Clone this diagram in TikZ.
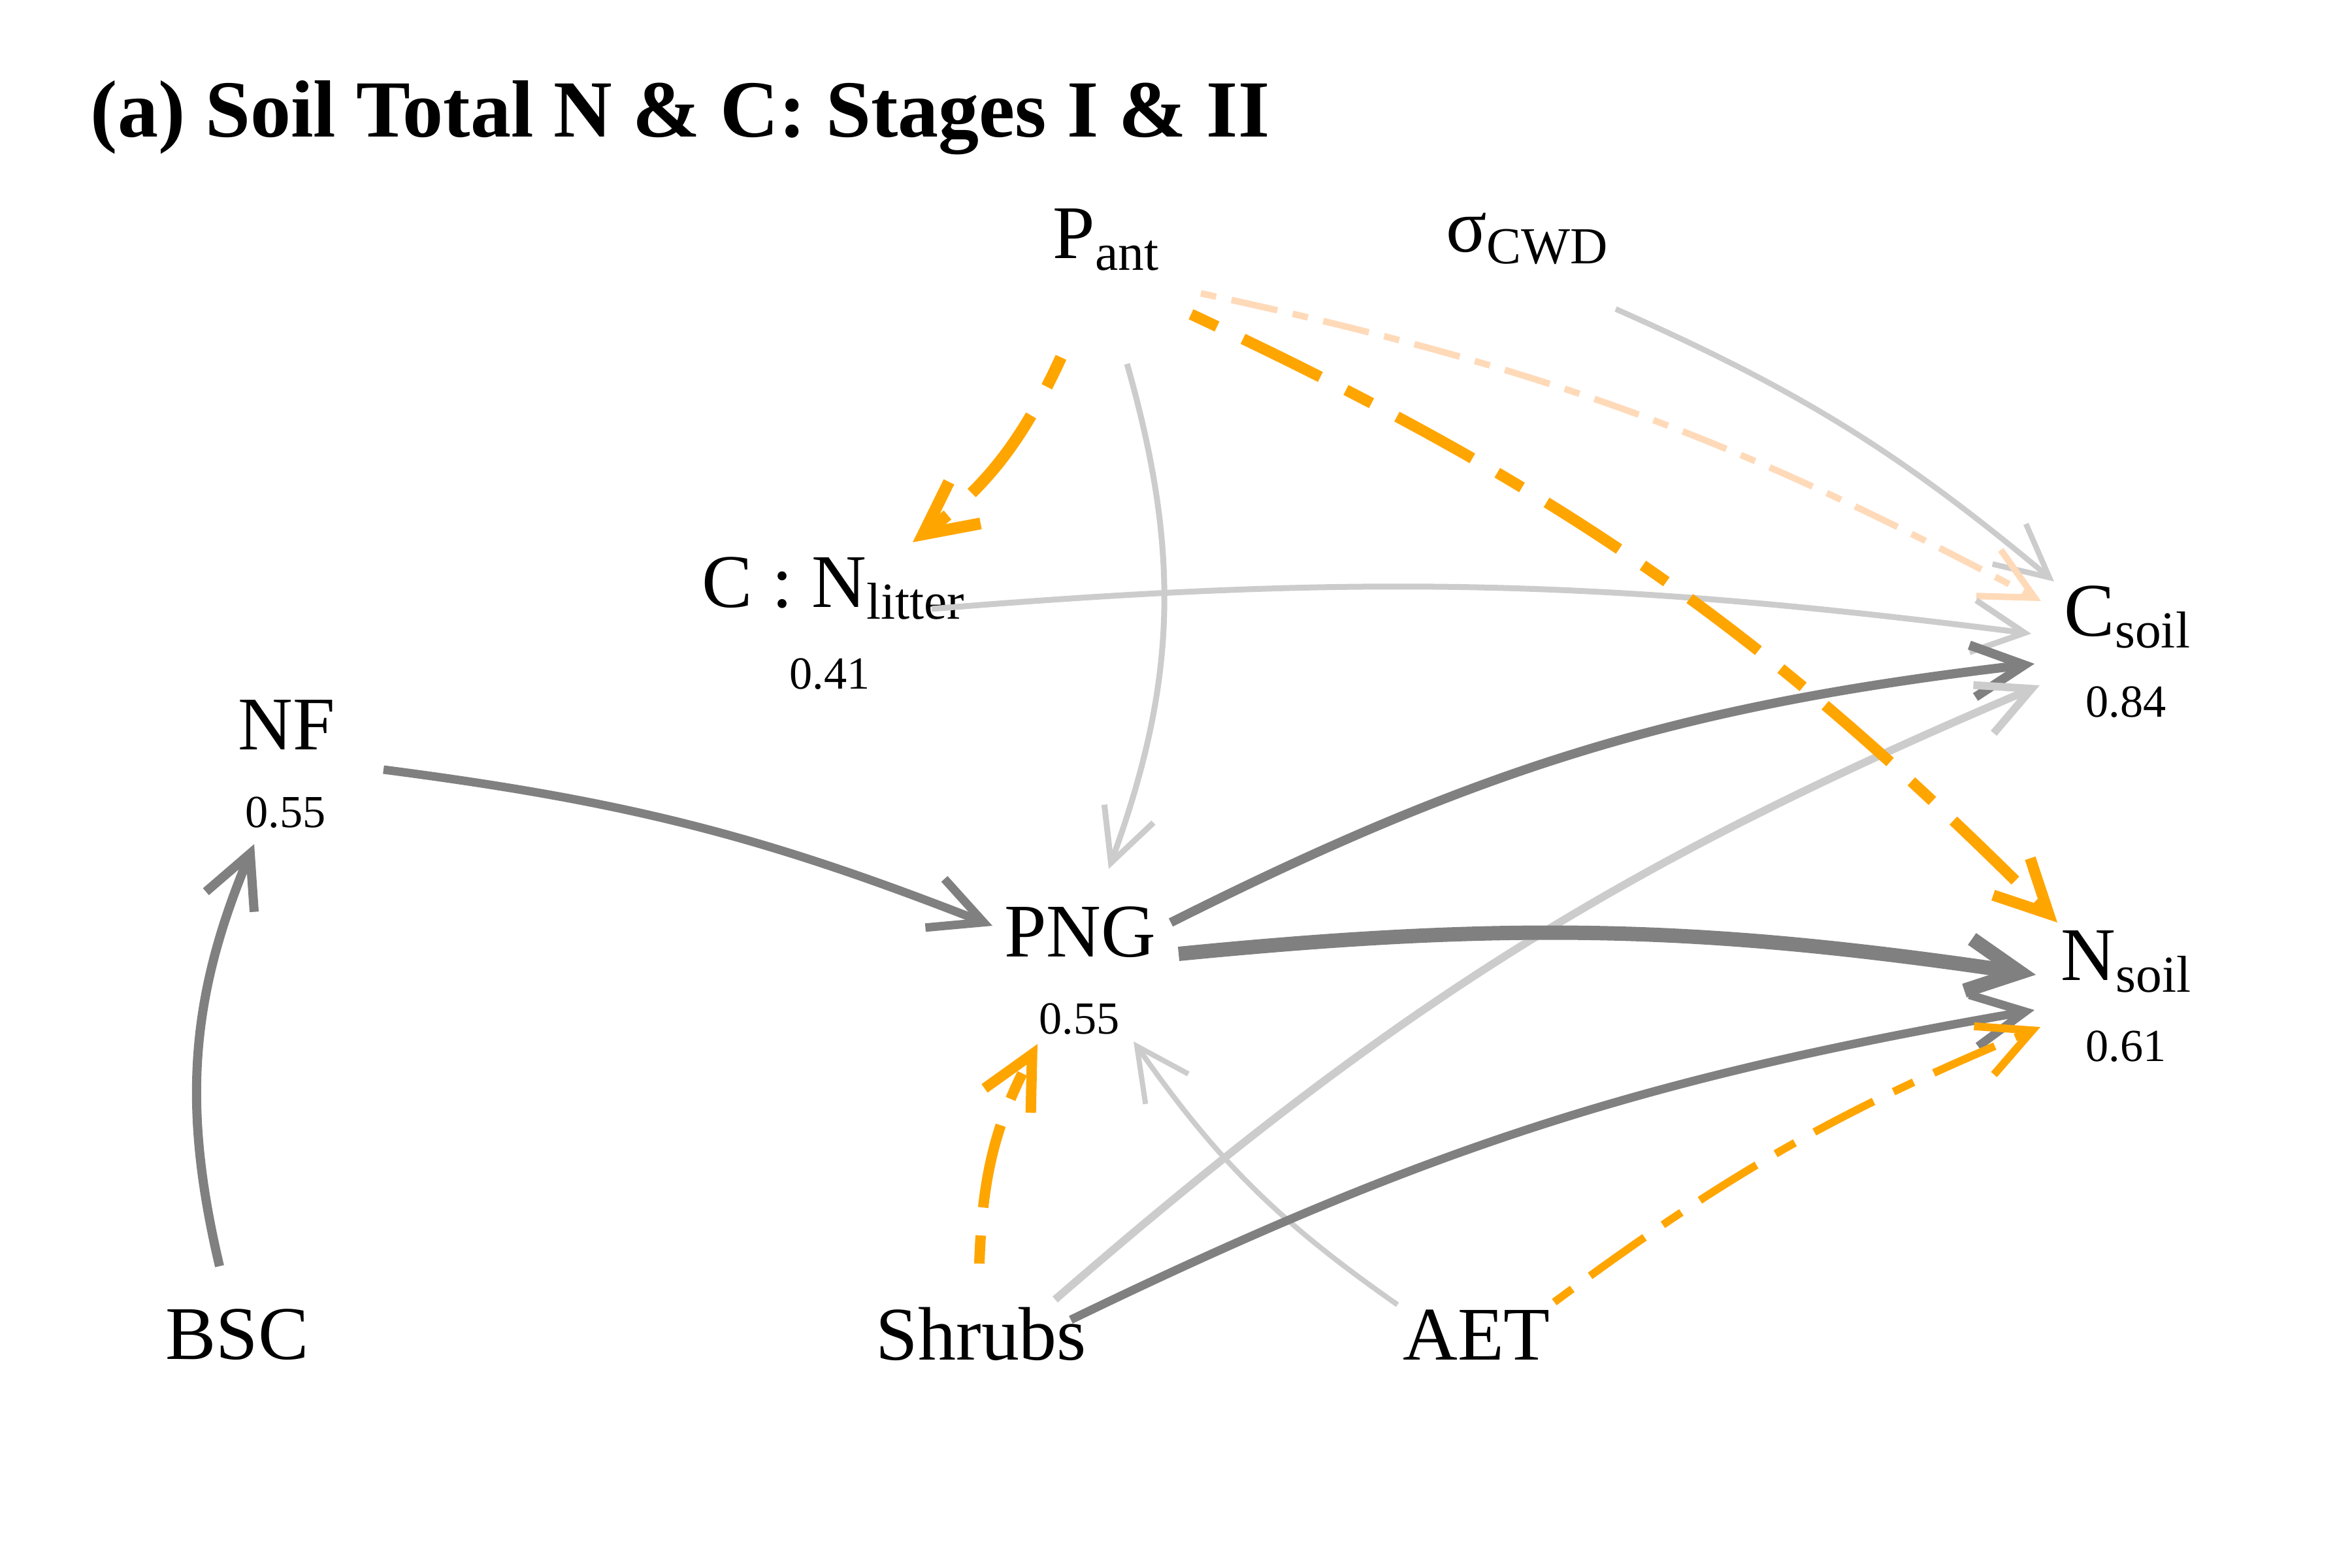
\documentclass[tikz,border=0pt]{standalone}
\usepackage{fontspec}
\setmainfont{Liberation Serif}
\usepackage{xcolor}
\usepackage{tikz}
\usetikzlibrary{arrows.meta,calc}

\definecolor{pathDark}{HTML}{808080}
\definecolor{pathLight}{HTML}{CCCCCC}
\definecolor{pathOrange}{HTML}{FFA500}
\definecolor{pathPeach}{HTML}{FFDAB9}

\newcommand{\lsub}[1]{\raisebox{-0.18cm}{\fontsize{22.6pt}{24pt}\selectfont #1}}

\tikzstyle{tsLabel} = [
    text=black,
    anchor=base,
    inner sep=0pt,
    font=\fontsize{33pt}{36pt}\selectfont
]
\tikzstyle{tsValue} = [
    tsLabel,
    font=\fontsize{20pt}{22pt}\selectfont
]
\tikzstyle{tsTitle} = [
    text=black,
    anchor=base west,
    inner sep=0pt,
    font=\bfseries\fontsize{35.3pt}{38pt}\selectfont
]
\tikzstyle{tsPath} = [
    -{Straight Barb[length=8mm, width=8mm]}
]
\tikzstyle{tsDark} = [tsPath, draw=pathDark]
\tikzstyle{tsLight} = [tsPath, draw=pathLight]
\tikzstyle{tsOrange} = [tsPath, draw=pathOrange]
\tikzstyle{tsPeach} = [tsPath, draw=pathPeach]

\begin{document}
\begin{tikzpicture}
    \useasboundingbox (0,0) rectangle (36,-24);

    \node[tsTitle] (title) at (1.38,-2.10) {(a) Soil Total N \& C: Stages I \& II};

    % Variables
    \node[tsLabel] (pant) at (16.925,-3.96) {P\lsub{ant}};
    \node[tsLabel] (scwd) at (23.37,-3.86) {σ\lsub{CWD}};
    \node[tsLabel] (cn) at (12.755,-9.30) {C : N\lsub{litter}};
    \node[tsLabel] (csoil) at (32.56,-9.74) {C\lsub{soil}};
    \node[tsLabel] (nf) at (4.39,-11.48) {NF};
    \node[tsLabel] (png) at (16.53,-14.64) {PNG};
    \node[tsLabel] (nsoil) at (32.54,-15.00) {N\lsub{soil}};
    \node[tsLabel] (bsc) at (3.63,-20.80) {BSC};
    \node[tsLabel] (shrubs) at (15.02,-20.81) {Shrubs};
    \node[tsLabel] (aet) at (22.60,-20.81) {AET};

    % R squared values
    \node[tsValue] (r2cn) at (12.70,-10.55) {0.41};
    \node[tsValue] (r2csoil) at (32.54,-10.98) {0.84};
    \node[tsValue] (r2nf) at (4.37,-12.66) {0.55};
    \node[tsValue] (r2png) at (16.52,-15.82) {0.55};
    \node[tsValue] (r2nsoil) at (32.54,-16.24) {0.61};

    % Paths into NF, PNG and C:N
    \draw[tsDark, line width=1.4mm] ($(bsc.base)+(-0.27,1.42)$) to[bend left=18] ($(nf.base)+(-0.50,-1.44)$);
    \draw[tsDark, line width=1.3mm] ($(nf.base)+(1.48,-0.30)$) to[bend left=7] ($(png.base)+(-1.34,0.47)$);
    \draw[tsLight, line width=0.9mm] ($(pant.base)+(0.325,-1.61)$) to[bend left=18] ($(png.base)+(0.44,1.34)$);
    \draw[tsOrange, line width=1.6mm, dash pattern=on 4.3mm off 4.3mm on 12.9mm off 4.3mm]
        ($(shrubs.base)+(-0.03,1.47)$) to[bend left=13] ($(png.base)+(-0.65,-1.34)$);
    \draw[tsLight, line width=0.8mm] ($(aet.base)+(-1.21,0.84)$) to[bend left=10] ($(png.base)+(0.82,-1.30)$);
    \draw[tsOrange, line width=1.8mm, dash pattern=on 5mm off 5mm on 15mm off 5mm]
        ($(pant.base)+(-0.685,-1.51)$) to[bend left=14] ($(cn.base)+(1.215,1.00)$);

    % Paths into C soil
    \draw[tsLight, line width=0.85mm] ($(scwd.base)+(1.36,-0.87)$) to[bend left=8] ($(csoil.base)+(-1.12,0.84)$);
    \draw[tsPeach, line width=1.0mm, dash pattern=on 2.4mm off 2.4mm on 7.2mm off 2.4mm]
        ($(pant.base)+(1.455,-0.53)$) to[bend left=8] ($(csoil.base)+(-1.32,0.54)$);
    \draw[tsLight, line width=0.9mm] ($(cn.base)+(1.505,-0.02)$) to[bend left=6] ($(csoil.base)+(-1.47,0.04)$);
    \draw[tsDark, line width=1.4mm] ($(png.base)+(1.39,0.52)$) to[bend left=10] ($(csoil.base)+(-1.42,-0.42)$);
    \draw[tsLight, line width=1.2mm] ($(shrubs.base)+(1.13,0.92)$) to[bend left=9] ($(csoil.base)+(-1.34,-0.75)$);

    % Paths into N soil
    \draw[tsOrange, line width=1.7mm, dash pattern=on 4.4mm off 4.4mm on 13.2mm off 4.4mm]
        ($(pant.base)+(1.305,-0.85)$) to[bend left=10] ($(nsoil.base)+(-1.05,0.88)$);
    \draw[tsDark, line width=2.2mm] ($(png.base)+(1.51,0.04)$) to[bend left=7] ($(nsoil.base)+(-1.38,0.08)$);
    \draw[tsDark, line width=1.3mm] ($(shrubs.base)+(1.37,0.61)$) to[bend left=8] ($(nsoil.base)+(-1.40,-0.46)$);
    \draw[tsOrange, line width=1.2mm, dash pattern=on 3.4mm off 3.4mm on 10.2mm off 3.4mm]
        ($(aet.base)+(1.19,0.88)$) to[bend left=7] ($(nsoil.base)+(-1.31,-0.72)$);

\end{tikzpicture}
\end{document}
